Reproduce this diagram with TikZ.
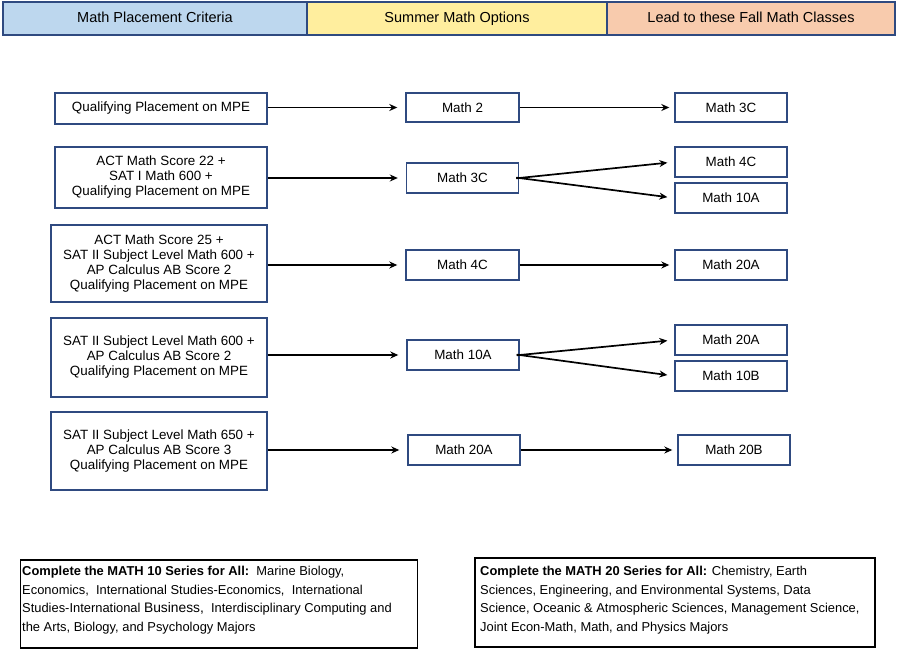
\documentclass[tikz,border=0pt]{standalone}
\usepackage{fontspec}
\setmainfont{Liberation Sans}
\usetikzlibrary{arrows.meta}
\definecolor{hblue}{HTML}{BDD7EE}
\definecolor{hyellow}{HTML}{FFEE9E}
\definecolor{horange}{HTML}{F8CBAD}
\definecolor{bdr}{HTML}{2F4A80}
\begin{document}
\begin{tikzpicture}[x=1pt,y=-1pt,
  hdr/.style={draw=bdr,line width=1.3pt,minimum height=33pt,inner sep=0pt,text height=10.5pt,text depth=3pt,font=\fontsize{14.5}{16}\selectfont},
  box/.style={draw=bdr,line width=1.4pt,fill=white,inner sep=0pt,align=center,font=\fontsize{13.4}{15}\selectfont},
  note/.style={draw=black,line width=1.5pt,inner sep=0pt},
  ntext/.style={anchor=north west,inner sep=0pt,align=left,font=\fontsize{12.9}{18.6}\selectfont},
  arr/.style={line width=1.7pt,-{Stealth[length=8pt,width=7pt]}},
]
\useasboundingbox (0,0) rectangle (900,653);
% header
\node[hdr,fill=hblue,minimum width=304pt] (h1) at (155,18.5) {Math Placement Criteria};
\node[hdr,fill=hyellow,minimum width=300pt] (h2) at (457,18.5) {Summer Math Options};
\node[hdr,fill=horange,minimum width=288pt] (h3) at (751,18.5) {Lead to these Fall Math Classes};
% left boxes
\node[box,minimum width=212pt,minimum height=31pt] (L1) at (161,108.5) {Qualifying Placement on MPE};
\node[box,minimum width=212pt,minimum height=61pt] (L2) at (161,177.5) {ACT Math Score 22 +\\SAT I Math 600 +\\Qualifying Placement on MPE};
\node[box,minimum width=216pt,minimum height=77pt] (L3) at (159,263.5) {ACT Math Score 25 +\\SAT II Subject Level Math 600 +\\AP Calculus AB Score 2\\Qualifying Placement on MPE};
\node[box,minimum width=216pt,minimum height=79pt] (L4) at (159,357.5) {SAT II Subject Level Math 600 +\\AP Calculus AB Score 2\\Qualifying Placement on MPE};
\node[box,minimum width=216pt,minimum height=78pt] (L5) at (159,451) {SAT II Subject Level Math 650 +\\AP Calculus AB Score 3\\Qualifying Placement on MPE};
% middle boxes
\node[box,minimum width=113pt,minimum height=29pt] (M1) at (462.5,107.5) {Math 2};
\node[box,minimum width=112pt,minimum height=30pt] (M2) at (462.5,178) {Math 3C};
\node[box,minimum width=113pt,minimum height=30pt] (M3) at (462.5,265) {Math 4C};
\node[box,minimum width=112pt,minimum height=30pt] (M4) at (463,355) {Math 10A};
\node[box,minimum width=112pt,minimum height=30pt] (M5) at (464,450) {Math 20A};
% right boxes
\node[box,minimum width=112pt,minimum height=29pt] (R1) at (731,107.5) {Math 3C};
\node[box,minimum width=112pt,minimum height=30pt] (R2) at (731,162) {Math 4C};
\node[box,minimum width=112pt,minimum height=30pt] (R3) at (731,198) {Math 10A};
\node[box,minimum width=112pt,minimum height=30pt] (R4) at (731,265) {Math 20A};
\node[box,minimum width=112pt,minimum height=30pt] (R5) at (731,340) {Math 20A};
\node[box,minimum width=112pt,minimum height=30pt] (R6) at (731,376) {Math 10B};
\node[box,minimum width=112pt,minimum height=30pt] (R7) at (734,450) {Math 20B};
% arrows left -> middle
\draw[arr,shorten >=8pt] (L1.east |- M1.west) -- (M1.west);
\draw[arr,shorten >=8pt] (L2.east |- M2.west) -- (M2.west);
\draw[arr,shorten >=8pt] (L3.east |- M3.west) -- (M3.west);
\draw[arr,shorten >=8pt] (L4.east |- M4.west) -- (M4.west);
\draw[arr,shorten >=8pt] (L5.east |- M5.west) -- (M5.west);
% arrows middle -> right
\draw[arr,shorten >=5pt] (M1.east) -- (R1.west);
\draw[arr,shorten >=7pt,shorten <=-3pt] (M2.east) -- (R2.west);
\draw[arr,shorten >=7pt,shorten <=-3pt] (M2.east) -- (R3.west);
\draw[arr,shorten >=5pt] (M3.east) -- (R4.west);
\draw[arr,shorten >=7pt,shorten <=-3pt] (M4.east) -- (R5.west);
\draw[arr,shorten >=7pt,shorten <=-3pt] (M4.east) -- (R6.west);
\draw[arr,shorten >=5pt] (M5.east) -- (R7.west);
% bottom notes
\node[note,minimum width=397pt,minimum height=88pt] (N1) at (219,604) {};
\node[ntext] (T1) at (22,566)
{\textbf{Complete the MATH 10 Series for All:}\ \ Marine Biology,\\
Economics,\ \ International Studies-Economics,\ \ International\\
Studies-International {\fontsize{13.8}{18.6}\selectfont Business,}\ \ Interdisciplinary Computing and\\
the Arts, Biology, and Psychology Majors};
\node[note,minimum width=400pt,minimum height=89pt] (N2) at (675,602.5) {};
\node[ntext] (T2) at (480,566)
{\textbf{Complete the MATH 20 Series for All:} Chemistry, Earth\\
Sciences, Engineering, and Environmental Systems, Data\\
Science, Oceanic \& Atmospheric Sciences, Management Science,\\
Joint Econ-Math, Math, and Physics Majors};
\end{tikzpicture}
\end{document}
